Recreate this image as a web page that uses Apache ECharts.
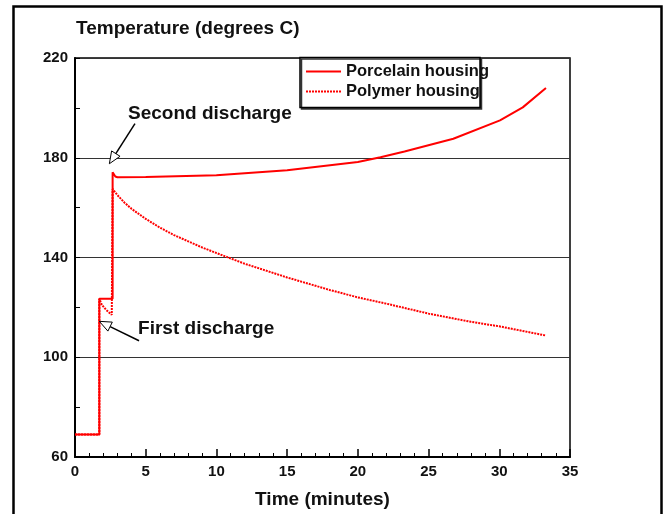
<!DOCTYPE html>
<html>
<head>
<meta charset="utf-8">
<script src="https://cdn.jsdelivr.net/npm/echarts@6/dist/echarts.min.js"></script>
<style>
  html, body { margin: 0; padding: 0; background: #fff; }
  #chart { width: 668px; height: 514px; }
</style>
</head>
<body>
<div id="chart"></div>
<script>
// Time (minutes) / temperature (degrees C) readings for each housing type
const porcelainTime = [0, 1.72, 1.72, 2.66, 2.66, 2.85, 3, 5, 10, 15, 20, 21.6, 23.3, 26.75, 30.05, 31.66, 33.3];
const porcelainTemp = [69, 69, 123.5, 123.5, 174.2, 172.5, 172.2, 172.3, 173, 175, 178.3, 180.2, 182.5, 187.6, 195, 200.2, 208];

const polymerTime = [0, 1.72, 1.72, 1.9, 2.2, 2.6, 2.66, 2.66, 3, 3.5, 4, 5, 6, 7, 8, 9, 10, 12, 15, 18, 20, 22, 25, 28, 30, 33.3];
const polymerTemp = [69, 69, 123.5, 121, 119, 117, 117, 167.5, 165, 162, 159.5, 155.5, 152, 149, 146.5, 144, 141.8, 137.5, 132, 127, 124, 121.5, 117.5, 114.2, 112.4, 108.7];

const seriesNames = ['Porcelain housing', 'Polymer housing'];
const xTicks = { min: 0, max: 35, step: 5 };
const yTicks = { min: 60, max: 220, step: 40 };

// Callouts: label anchor, arrow tail and arrow tip, all in data units
const calloutText = ['Second discharge', 'First discharge'];
const calloutLabel = [[3.75, 197.8], [4.46, 111.6]];
const calloutTail = [[4.24, 193.7], [4.53, 106.6]];
const calloutTip = [[2.43, 177.6], [1.72, 114.4]];

const pairs = (xs, ys) => xs.map((x, i) => [x, ys[i]]);
const FONT = 'Liberation Sans, Arial, sans-serif';

const chart = echarts.init(document.getElementById('chart'));

function renderCallout(params, api) {
  const i = params.dataIndex;
  const lbl = api.coord(calloutLabel[i]);
  const tail = api.coord(calloutTail[i]);
  const tip = api.coord(calloutTip[i]);
  const dx = tip[0] - tail[0], dy = tip[1] - tail[1];
  const len = Math.sqrt(dx * dx + dy * dy);
  const ux = dx / len, uy = dy / len;
  const headLen = 12, headHalf = 5;
  const bx = tip[0] - ux * headLen, by = tip[1] - uy * headLen;
  const px = -uy, py = ux;
  return {
    type: 'group',
    children: [
      {
        type: 'line',
        shape: { x1: tail[0], y1: tail[1], x2: bx, y2: by },
        style: { stroke: '#000', lineWidth: 1.5 }
      },
      {
        type: 'polygon',
        shape: { points: [
          [tip[0], tip[1]],
          [bx + px * headHalf, by + py * headHalf],
          [bx - px * headHalf, by - py * headHalf]
        ] },
        style: { fill: '#fff', stroke: '#000', lineWidth: 1 }
      },
      {
        type: 'text',
        x: lbl[0], y: lbl[1],
        style: {
          text: calloutText[i],
          fill: '#111',
          font: 'bold 19px ' + FONT,
          textAlign: 'left',
          textVerticalAlign: 'middle'
        }
      }
    ]
  };
}

chart.setOption({
  animation: false,
  backgroundColor: '#fff',
  title: {
    text: 'Temperature (degrees C)',
    left: 76, top: 19, padding: 0,
    textStyle: { fontFamily: FONT, fontWeight: 'bold', fontSize: 19, color: '#111' }
  },
  graphic: [
    {
      // outer frame
      type: 'rect',
      shape: { x: 13.5, y: 6.5, width: 648, height: 530 },
      style: { fill: 'none', stroke: '#000', lineWidth: 2.5 },
      z: 100
    },
    {
      // legend box
      type: 'rect',
      shape: { x: 300, y: 57.5, width: 180, height: 50 },
      style: {
        fill: '#fff', stroke: '#000', lineWidth: 1.5,
        shadowColor: '#333', shadowOffsetX: 1.5, shadowOffsetY: 1.5, shadowBlur: 0
      },
      z: 3
    }
  ],
  legend: {
    data: seriesNames,
    orient: 'vertical',
    left: 300, top: 58,
    padding: [5, 0, 0, 5],
    itemGap: 3,
    itemWidth: 35, itemHeight: 14,
    itemStyle: { opacity: 0 },
    z: 10,
    textStyle: { fontFamily: FONT, fontWeight: 'bold', fontSize: 16.5, color: '#111' }
  },
  grid: {
    left: 75, top: 58, right: 98, bottom: 53,
    show: true, borderColor: '#000', borderWidth: 1.5
  },
  xAxis: {
    type: 'value',
    min: xTicks.min, max: xTicks.max, interval: xTicks.step,
    name: 'Time (minutes)',
    nameLocation: 'middle', nameGap: 33,
    nameTextStyle: { fontFamily: FONT, fontWeight: 'bold', fontSize: 19, color: '#111' },
    axisLine: { lineStyle: { color: '#000', width: 2 } },
    axisTick: { inside: true, length: 8, lineStyle: { color: '#000', width: 1.5 } },
    minorTick: { show: true, splitNumber: 5, length: 4, lineStyle: { color: '#000', width: 1 } },
    splitLine: { show: false },
    axisLabel: { fontFamily: FONT, fontWeight: 'bold', fontSize: 15, color: '#111', margin: 7 }
  },
  yAxis: {
    type: 'value',
    min: yTicks.min, max: yTicks.max, interval: yTicks.step,
    axisLine: { lineStyle: { color: '#000', width: 2 } },
    axisTick: { inside: true, length: 5, lineStyle: { color: '#000', width: 1 } },
    minorTick: { show: true, splitNumber: 2, length: 5, lineStyle: { color: '#000', width: 1 } },
    splitLine: { show: true, lineStyle: { color: '#333', width: 1.2 } },
    axisLabel: { fontFamily: FONT, fontWeight: 'bold', fontSize: 15, color: '#111', margin: 7 }
  },
  series: [
    {
      name: seriesNames[0],
      type: 'line',
      data: pairs(porcelainTime, porcelainTemp),
      showSymbol: false, symbol: 'none',
      color: '#ff0000',
      lineStyle: { color: '#ff0000', width: 2 },
      z: 3
    },
    {
      name: seriesNames[1],
      type: 'line',
      data: pairs(polymerTime, polymerTemp),
      showSymbol: false, symbol: 'none',
      color: '#ff0000',
      lineStyle: { color: '#ff0000', width: 2, type: [2, 1] },
      z: 4
    },
    {
      name: 'callouts',
      type: 'custom',
      coordinateSystem: 'cartesian2d',
      data: calloutTip,
      renderItem: renderCallout,
      clip: false,
      silent: true,
      z: 10
    }
  ]
});
</script>
</body>
</html>
